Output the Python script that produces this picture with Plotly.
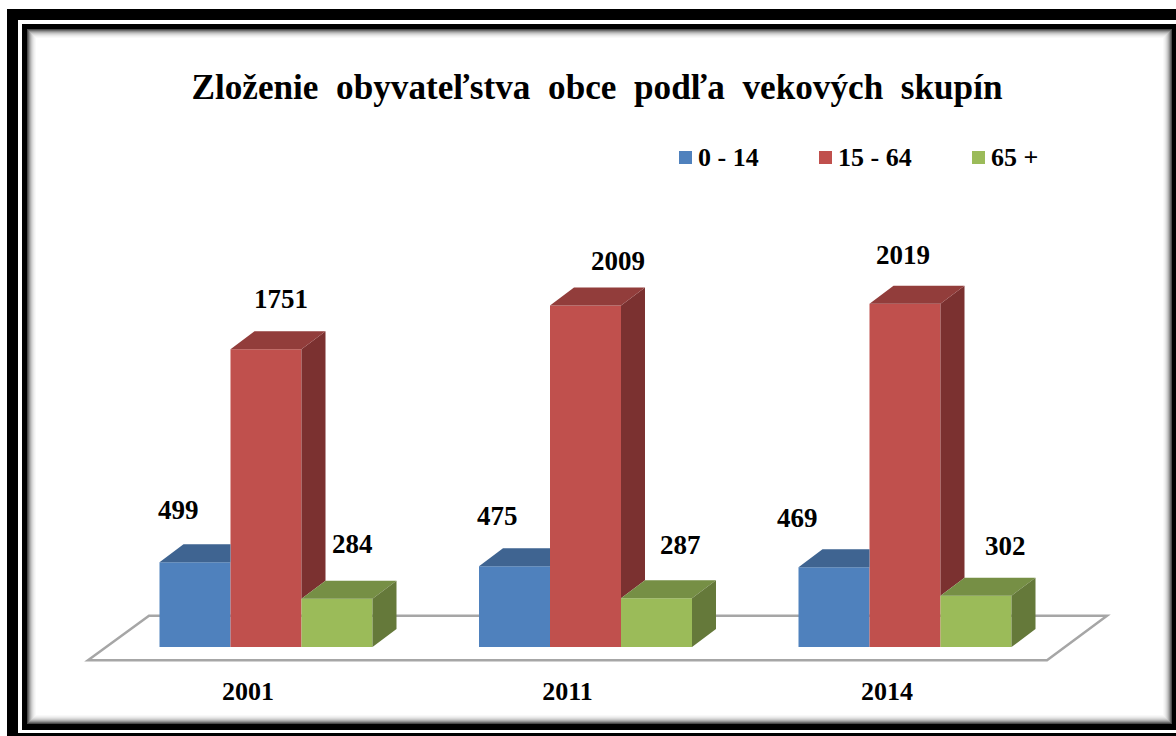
import plotly.graph_objects as go

# ---- data ----
YEARS = ["2001", "2011", "2014"]
SERIES = ["0 - 14", "15 - 64", "65 +"]
AGE_0_14 = [499, 475, 469]
AGE_15_64 = [1751, 2009, 2019]
AGE_65_PLUS = [284, 287, 302]
TITLE = "Zloženie  obyvateľstva  obce  podľa  vekových  skupín"

# ---- layout constants (pixels) ----
W, H = 1176, 736
BASE_PX = 647.0          # y pixel of value 0
PX_PER_UNIT = 0.17       # pixels per person
GROUP_PX = 319.5         # pixels between categories
FIRST_PX = 266.0         # pixel of first category centre
DEPTH_X_PX, DEPTH_Y_PX = 24.0, 18.0
TICK_SHIFT_PX = 18.0     # category labels sit left of the group centres in the reference
FONT = "Liberation Serif"

FRONT = ["#4f81bd", "#c0504d", "#9bbb59"]
TOP = ["#3f6491", "#923d3b", "#768f45"]
SIDE = ["#3a5a85", "#7b3130", "#65793a"]
FLOOR_LINE = "#a6a6a6"

# label displacement from the top-centre of each front face (right, down), hand placed in the reference
LABEL_DX = [[-17, -17, -37], [15, 32, -2], [15, 24, 29]]
LABEL_DY = [[52, 50, 49], [50, 44, 49], [55, 53, 50]]

values = [AGE_0_14, AGE_15_64, AGE_65_PLUS]
cats = list(range(len(YEARS)))
bar_w = (2 / 3) / 3
dx = DEPTH_X_PX / GROUP_PX
dy = DEPTH_Y_PX / PX_PER_UNIT

fig = go.Figure()
for s, name in enumerate(SERIES):
    fig.add_bar(x=cats, y=values[s], name=name, marker=dict(color=FRONT[s], line_width=0),
                showlegend=False, hovertemplate="%{y}<extra>" + name + "</extra>")


def poly_trace(xs, ys, color):
    fig.add_scatter(x=xs, y=ys, mode="lines", fill="toself", fillcolor=color,
                    line=dict(width=0, color=color), showlegend=False, hoverinfo="skip")


def left(i, s):
    return cats[i] + (s - 1.5) * bar_w


# red side faces (lower edge meets the green top)
xs, ys = [], []
for i in cats:
    x1 = left(i, 2)
    g, r = AGE_65_PLUS[i], AGE_15_64[i]
    xs += [x1, x1 + dx, x1 + dx, x1, None]
    ys += [g, g + dy, r + dy, r, None]
poly_trace(xs, ys, SIDE[1])

# top faces
for s in [1, 0, 2]:
    xs, ys = [], []
    for i in cats:
        x0, x1 = left(i, s), left(i, s + 1)
        v = values[s][i]
        right_back = x1 if s == 0 else x1 + dx
        xs += [x0, x0 + dx, right_back, x1, None]
        ys += [v, v + dy, v + dy, v, None]
    poly_trace(xs, ys, TOP[s])

# green side faces
xs, ys = [], []
for i in cats:
    x1 = left(i, 3)
    v = AGE_65_PLUS[i]
    xs += [x1, x1 + dx, x1 + dx, x1, None]
    ys += [0, dy, v + dy, v, None]
poly_trace(xs, ys, SIDE[2])


def px(x):
    return x / W


def py(y):
    return (BASE_PX - y) / BASE_PX


def rect(x0, y0, x1, y1, color):
    return dict(type="rect", xref="paper", yref="paper", layer="below",
                x0=px(x0), x1=px(x1), y0=py(y1), y1=py(y0),
                fillcolor=color, line_width=0)


# picture frame
shapes = [
    rect(7, 9, W + 5, H + 5, "#000000"),
    rect(18, 20, W + 5, 733, "#ffffff"),
    rect(22, 24, W + 5, 730, "#000000"),
]
fade = ["#4a4a4a", "#6e6e6e", "#929292", "#b0b0b0", "#c8c8c8", "#dadada", "#e8e8e8", "#f2f2f2", "#f9f9f9", "#ffffff"]
for k, c in enumerate(fade):
    shapes.append(rect(27 + k, 29 + k, 1172 - k, 724 - k, c))

# floor
floor_pts = [(88, 660.3), (149, 615.7), (1107, 615.7), (1047, 660.3)]
path = "M " + " L ".join(f"{px(a):.5f},{py(b):.5f}" for a, b in floor_pts) + " Z"
shapes.append(dict(type="path", xref="paper", yref="paper", layer="below", path=path,
                   fillcolor="#ffffff", line=dict(color=FLOOR_LINE, width=2.5)))

# legend
LEG_SWATCH_PX = [679, 819, 972]
LEG_TEXT_PX = [698, 838, 991]
LEG_Y_PX = 157.5
annotations = []
for s, name in enumerate(SERIES):
    shapes.append(rect(LEG_SWATCH_PX[s], LEG_Y_PX - 6.5, LEG_SWATCH_PX[s] + 13, LEG_Y_PX + 6.5, FRONT[s]))
    annotations.append(dict(xref="paper", yref="paper", x=px(LEG_TEXT_PX[s]), y=py(LEG_Y_PX),
                            text=f"<b>{name}</b>", showarrow=False, xanchor="left", yanchor="middle",
                            xshift=-2, font=dict(family=FONT, size=26, color="#000000")))

# data labels
for s in range(len(SERIES)):
    for i in cats:
        annotations.append(dict(xref="x", yref="y", x=left(i, s) + bar_w / 2, y=values[s][i],
                                text=f"<b>{values[s][i]}</b>", showarrow=False,
                                xanchor="center", yanchor="middle",
                                xshift=LABEL_DX[s][i], yshift=LABEL_DY[s][i],
                                font=dict(family=FONT, size=27, color="#000000")))

fig.update_layout(
    width=W, height=H, autosize=False,
    margin=dict(l=0, r=0, t=0, b=H - BASE_PX, pad=0),
    paper_bgcolor="#ffffff", plot_bgcolor="rgba(0,0,0,0)",
    barmode="group", bargap=1 / 3, bargroupgap=0,
    showlegend=False,
    shapes=shapes, annotations=annotations,
    title=dict(text=f"<b>{TITLE}</b>", x=597 / W, xanchor="center", xref="paper",
               y=1 - 87 / H, yanchor="middle", yref="container",
               font=dict(family=FONT, size=35.2, color="#000000")),
    xaxis=dict(range=[(0 - FIRST_PX) / GROUP_PX, (W - FIRST_PX) / GROUP_PX],
               tickmode="array", tickvals=[c - TICK_SHIFT_PX / GROUP_PX for c in cats],
               ticktext=[f"<b>{y}</b>" for y in YEARS],
               ticks="outside", ticklen=21, tickcolor="rgba(0,0,0,0)",
               tickfont=dict(family=FONT, size=26, color="#000000"),
               showgrid=False, zeroline=False, showline=False),
    yaxis=dict(range=[0, BASE_PX / PX_PER_UNIT], visible=False, showgrid=False, zeroline=False),
)

fig.write_html("out.html", config={"displayModeBar": False},
               post_script="document.body.style.margin='0';document.body.style.overflow='hidden';")
